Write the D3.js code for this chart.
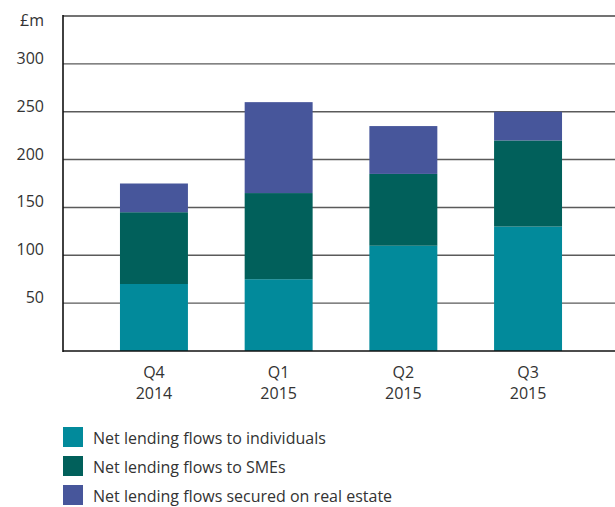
<!DOCTYPE html>
<html><head><meta charset="utf-8">
<script src="https://cdn.jsdelivr.net/npm/d3@7"></script>
<style>body{margin:0;background:#fff}svg{display:block}text{font-family:"Open Sans",sans-serif;fill:#333}</style>
</head><body><svg id="c" width="615" height="507"></svg>
<script>
const categories = ["Q4|2014","Q1|2015","Q2|2015","Q3|2015"];
const individuals = [70, 75, 110, 130];
const smes = [75, 90, 75, 90];
const realEstate = [30, 95, 50, 30];
const seriesNames = ["Net lending flows to individuals","Net lending flows to SMEs","Net lending flows secured on real estate"];
const colors = ["#028A9B","#01605B","#47569B"];
const yTicks = [50,100,150,200,250,300];
const yUnitLabel = "£m";

const svg = d3.select("#c");
const L = 63, R = 615, T = 16, B = 351;
const y = d3.scaleLinear().domain([0,350]).range([B, T]);
const x = d3.scaleBand().domain(categories).range([91.6, 590.4]).paddingInner(0.455).paddingOuter(0.2275);

const rows = categories.map((c,i)=>({cat:c, s0:individuals[i], s1:smes[i], s2:realEstate[i]}));
const stack = d3.stack().keys(["s0","s1","s2"])(rows);

// gridlines
const g = svg.append("g");
g.selectAll("line.grid").data(yTicks.concat([350])).enter().append("line")
  .attr("x1", L).attr("x2", R).attr("y1", d=>y(d)).attr("y2", d=>y(d))
  .attr("stroke", d=> d===350 ? "#444" : "#5a5a5a").attr("stroke-width", 1.4);

// bars
stack.forEach((s,k)=>{
  svg.append("g").selectAll("rect").data(s).enter().append("rect")
    .attr("x", d=>x(d.data.cat)).attr("width", x.bandwidth())
    .attr("y", d=>y(d[1])).attr("height", d=>y(d[0])-y(d[1]))
    .attr("fill", colors[k]);
});

// axes lines
svg.append("line").attr("x1",L).attr("x2",L).attr("y1",T-1).attr("y2",B+1).attr("stroke","#111").attr("stroke-width",1.6);
svg.append("line").attr("x1",L).attr("x2",R).attr("y1",B).attr("y2",B).attr("stroke","#111").attr("stroke-width",1.6);

// y labels
svg.append("g").selectAll("text").data(yTicks).enter().append("text")
  .attr("x", 44).attr("y", d=>y(d)-6).attr("text-anchor","end").attr("dominant-baseline","central")
  .attr("font-size",16).text(d=>d);
svg.append("text").attr("x",44).attr("y",20).attr("text-anchor","end").attr("dominant-baseline","central")
  .attr("font-size",16).text(yUnitLabel);

// x labels
const xl = svg.append("g").selectAll("text").data(categories).enter().append("text")
  .attr("text-anchor","middle").attr("font-size",16);
xl.append("tspan").attr("x", d=>x(d)+x.bandwidth()/2).attr("y", 378).text(d=>d.split("|")[0]);
xl.append("tspan").attr("x", d=>x(d)+x.bandwidth()/2).attr("y", 399).text(d=>d.split("|")[1]);

// legend
const lg = svg.append("g").selectAll("g").data(seriesNames).enter().append("g")
  .attr("transform",(d,i)=>`translate(63,${427+i*29})`);
lg.append("rect").attr("width",20).attr("height",20).attr("fill",(d,i)=>colors[i]);
lg.append("text").attr("x",30).attr("y",11).attr("dominant-baseline","central").attr("font-size",16).text(d=>d);
</script></body></html>
